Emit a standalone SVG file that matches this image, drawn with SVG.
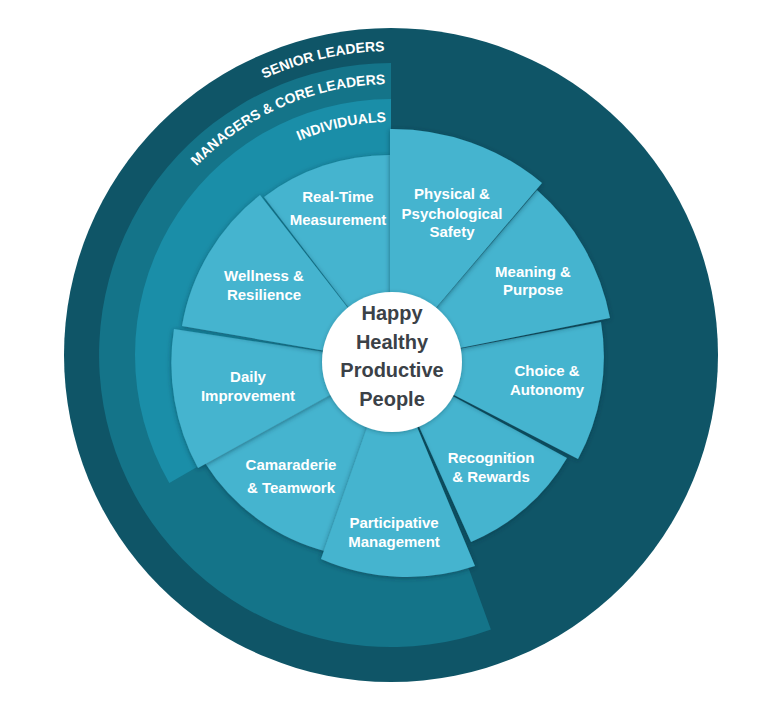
<svg xmlns="http://www.w3.org/2000/svg" width="774" height="708" viewBox="0 0 774 708">
<style>
.band{font-family:"Liberation Sans",Arial,sans-serif;font-weight:bold;font-size:14px;fill:#ffffff;}
.lbl{font-family:"Liberation Sans",Arial,sans-serif;font-weight:bold;font-size:15px;fill:#ffffff;text-anchor:middle;}
.hub{font-family:"Liberation Sans",Arial,sans-serif;font-weight:bold;font-size:20px;fill:#3b4147;text-anchor:middle;}
.wedge{fill:#44b4cf;filter:url(#sh);}
</style>
<defs>
<filter id="sh" x="-30%" y="-30%" width="160%" height="160%">
<feDropShadow dx="0" dy="1" stdDeviation="2.5" flood-color="#08323d" flood-opacity="0.55"/>
</filter>
<filter id="hubsh" x="-30%" y="-30%" width="160%" height="160%">
<feDropShadow dx="0" dy="1" stdDeviation="2" flood-color="#08323d" flood-opacity="0.35"/>
</filter>
<path id="arcSenior" d="M 87,355 A 304 304 0 0 1 384.6,51.1"/>
<path id="arcManagers" d="M 120,355 A 271 271 0 0 1 385.3,84.1"/>
<path id="arcIndividuals" d="M 158,355 A 233 233 0 0 1 386.1,122"/>
</defs>
<rect width="774" height="708" fill="#ffffff"/>

<g id="senior-leaders">
<circle cx="391" cy="355" r="327" fill="#0f5567"/>
<text class="band"><textPath href="#arcSenior" startOffset="100%" text-anchor="end">SENIOR LEADERS</textPath></text>
</g>
<g id="managers-core-leaders">
<path d="M391,355 L490.9,629.4 A292,292 0 1 1 391,63 Z" fill="#147489"/>
<text class="band"><textPath href="#arcManagers" startOffset="100%" text-anchor="end">MANAGERS &amp; CORE LEADERS</textPath></text>
</g>
<g id="individuals">
<path d="M391,355 L169.3,483 A256,256 0 0 1 391,99 Z" fill="#1a8ea8"/>
<text class="band"><textPath href="#arcIndividuals" startOffset="100%" text-anchor="end">INDIVIDUALS</textPath></text>
</g>

<g id="recognition-rewards">
<path class="wedge" d="M390,362 L567,458 A200,200 0 0 1 471,542 Z"/>
<text class="lbl" x="491" y="463">Recognition</text>
<text class="lbl" x="491" y="482">&amp; Rewards</text>
</g>
<g id="camaraderie-teamwork">
<path class="wedge" d="M390,362 L328,552 A205,205 0 0 1 205,463 Z"/>
<text class="lbl" x="291" y="470">Camaraderie</text>
<text class="lbl" x="291" y="493">&amp; Teamwork</text>
</g>
<g id="real-time-measurement">
<path class="wedge" d="M390,362 L264,197 A207,207 0 0 1 390,155 Z"/>
<text class="lbl" x="338" y="202">Real-Time</text>
<text class="lbl" x="338" y="225">Measurement</text>
</g>
<g id="choice-autonomy">
<path class="wedge" d="M390,362 L601,322 A214,214 0 0 1 578,459 Z"/>
<text class="lbl" x="547" y="376">Choice &amp;</text>
<text class="lbl" x="547" y="395">Autonomy</text>
</g>
<g id="daily-improvement">
<path class="wedge" d="M390,362 L198,468 A220,220 0 0 1 174,329 Z"/>
<text class="lbl" x="248" y="382">Daily</text>
<text class="lbl" x="248" y="401">Improvement</text>
</g>
<g id="meaning-purpose">
<path class="wedge" d="M390,362 L537,190 A226,226 0 0 1 610,318 Z"/>
<text class="lbl" x="533" y="277">Meaning &amp;</text>
<text class="lbl" x="533" y="295">Purpose</text>
</g>
<g id="wellness-resilience">
<path class="wedge" d="M390,362 L182,326 A212,212 0 0 1 260,195 Z"/>
<text class="lbl" x="264" y="281">Wellness &amp;</text>
<text class="lbl" x="264" y="300">Resilience</text>
</g>
<g id="physical-psychological-safety">
<path class="wedge" d="M390,362 L390,129 A234,234 0 0 1 542,183 Z"/>
<text class="lbl" x="452" y="199">Physical &amp;</text>
<text class="lbl" x="452" y="219">Psychological</text>
<text class="lbl" x="452" y="237">Safety</text>
</g>
<g id="participative-management">
<path class="wedge" d="M390,362 L475,566 A215,215 0 0 1 321,559 Z"/>
<text class="lbl" x="394" y="528">Participative</text>
<text class="lbl" x="394" y="547">Management</text>
</g>

<g id="hub">
<circle cx="392" cy="362" r="70" fill="#ffffff" filter="url(#hubsh)"/>
<text class="hub" x="392" y="320">Happy</text>
<text class="hub" x="392" y="349">Healthy</text>
<text class="hub" x="392" y="377">Productive</text>
<text class="hub" x="392" y="406">People</text>
</g>
</svg>
